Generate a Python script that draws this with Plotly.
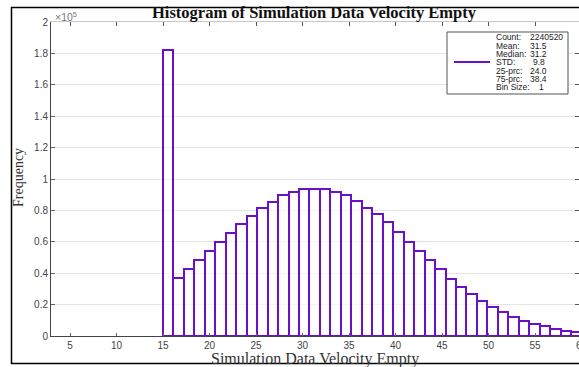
import plotly.graph_objects as go

# Histogram bins: 40 equal bins spanning 15..60
bin_start = 15.0
bin_stop = 60.0
n_bins = 40
counts = [182000, 36700, 42700, 48400, 53900, 59900, 65600, 71300, 76600, 81700,
          85300, 89600, 91700, 93600, 93600, 93600, 91900, 89800, 86200, 81300,
          77700, 72400, 66400, 60100, 54100, 48400, 42500, 36500, 31000, 26800,
          22300, 18700, 15300, 12300, 9800, 7600, 6400, 4700, 3400, 2500]

x_ticks = [5, 10, 15, 20, 25, 30, 35, 40, 45, 50, 55, 60]
y_ticks = [0, 20000, 40000, 60000, 80000, 100000, 120000, 140000, 160000, 180000, 200000]
y_ticktext = ["0", "0.2", "0.4", "0.6", "0.8", "1", "1.2", "1.4", "1.6", "1.8", "2"]

stat_labels = ["Count:", "Mean:", "Median:", "STD:", "25-prc:", "75-prc:", "Bin Size:"]
stat_values = ["2240520", "31.5", "31.2", "9.8", "24.0", "38.4", "1"]

title_text = "Histogram of Simulation Data Velocity Empty"
x_title = "Simulation Data Velocity Empty"
y_title = "Frequency"

purple = "rgb(106,16,200)"
x_range = [2.957, 59.73]

W, H = 579, 367
L, R, T, B = 51, 0, 22, 31
plot_w = W - L - R
plot_h = H - T - B


def px_x(px):
    return (px - L) / plot_w


def px_y(py):
    return (H - B - py) / plot_h


width = (bin_stop - bin_start) / n_bins
centers = [bin_start + width * (i + 0.5) for i in range(n_bins)]

fig = go.Figure()
fig.add_trace(go.Bar(
    x=centers, y=counts, width=[width] * n_bins,
    marker=dict(color="rgba(255,255,255,0.6)", line=dict(color=purple, width=2)),
    showlegend=False, hoverinfo="skip",
))
# empty trace to register the mirrored top/right axes
fig.add_trace(go.Scatter(x=[], y=[], xaxis="x2", yaxis="y2", showlegend=False))

tick_font = dict(family="Liberation Sans, Arial, sans-serif", size=10, color="#444")

fig.update_layout(
    width=W, height=H,
    margin=dict(l=L, r=R, t=T, b=B),
    paper_bgcolor="white", plot_bgcolor="white",
    bargap=0,
    xaxis=dict(range=x_range, tickvals=x_ticks, ticks="inside", ticklen=3,
               tickcolor="#666", showgrid=False, zeroline=False,
               showline=True, linecolor="#444", linewidth=1,
               tickfont=tick_font),
    yaxis=dict(range=[0, 200000], tickvals=y_ticks, ticktext=y_ticktext,
               ticks="inside", ticklen=4, tickcolor="#666",
               showgrid=True, gridcolor="#e4e4e4", gridwidth=1, zeroline=False,
               showline=True, linecolor="#444", linewidth=1,
               tickfont=tick_font),
    xaxis2=dict(overlaying="x", side="top", anchor="y", range=x_range,
                tickvals=x_ticks, ticks="inside", ticklen=4, tickcolor="#555",
                showticklabels=False, showgrid=False, zeroline=False,
                showline=True, linecolor="#c8c8c8", linewidth=1),
    yaxis2=dict(overlaying="y", side="right", anchor="x", range=[0, 200000],
                tickvals=y_ticks, ticks="inside", ticklen=4, tickcolor="#555",
                showticklabels=False, showgrid=False, zeroline=False,
                showline=False),
)

annotations = []
# last x tick label, centred just past the right edge
annotations.append(dict(
    x=(60 - x_range[0]) / (x_range[1] - x_range[0]), y=px_y(345),
    xref="paper", yref="paper", text="60", showarrow=False,
    xanchor="center", yanchor="middle", font=tick_font))
# exponent label
annotations.append(dict(
    x=px_x(53), y=px_y(16), xref="paper", yref="paper",
    text="\u00d710<sup>5</sup>", showarrow=False, xanchor="left", yanchor="middle",
    font=dict(family="Liberation Sans, Arial, sans-serif", size=10.5, color="#777")))
# titles
annotations.append(dict(
    x=px_x(314.5), y=px_y(13), xref="paper", yref="paper", text="<b>" + title_text + "</b>",
    showarrow=False, xanchor="center", yanchor="middle",
    font=dict(family="Liberation Serif, Times New Roman, serif", size=16.5, color="#111")))
annotations.append(dict(
    x=px_x(314.5), y=px_y(358.5), xref="paper", yref="paper", text=x_title,
    showarrow=False, xanchor="center", yanchor="middle",
    font=dict(family="Liberation Serif, Times New Roman, serif", size=16, color="#333")))
annotations.append(dict(
    x=px_x(18), y=px_y(178), xref="paper", yref="paper", text=y_title, textangle=-90,
    showarrow=False, xanchor="center", yanchor="middle",
    font=dict(family="Liberation Serif, Times New Roman, serif", size=14, color="#333")))

# statistics box text
stat_font = dict(family="Liberation Sans, Arial, sans-serif", size=8.5, color="#222")
value_x = [528, 528, 528, 531, 528, 528, 537]
for i, (lab, val) in enumerate(zip(stat_labels, stat_values)):
    yc = px_y(37.3 + 8.3 * i)
    annotations.append(dict(x=px_x(494), y=yc, xref="paper", yref="paper", text=lab,
                            showarrow=False, xanchor="left", yanchor="middle", font=stat_font))
    annotations.append(dict(x=px_x(value_x[i]), y=yc, xref="paper", yref="paper", text=val,
                            showarrow=False, xanchor="left", yanchor="middle", font=stat_font))
fig.update_layout(annotations=annotations)

shapes = [
    # statistics box and its line sample
    dict(type="rect", xref="paper", yref="paper",
         x0=px_x(447), x1=px_x(568), y0=px_y(94), y1=px_y(32),
         line=dict(color="#555", width=1), fillcolor="white", layer="above"),
    dict(type="line", xref="paper", yref="paper",
         x0=px_x(454), x1=px_x(490), y0=px_y(62), y1=px_y(62),
         line=dict(color=purple, width=2), layer="above"),
    # outer figure frame
    dict(type="line", xref="paper", yref="paper",
         x0=px_x(11), x1=px_x(580), y0=px_y(7.5), y1=px_y(7.5),
         line=dict(color="black", width=1.5)),
    dict(type="line", xref="paper", yref="paper",
         x0=px_x(11.5), x1=px_x(11.5), y0=px_y(7), y1=px_y(364),
         line=dict(color="black", width=1.5)),
    dict(type="line", xref="paper", yref="paper",
         x0=px_x(11), x1=px_x(580), y0=px_y(363.5), y1=px_y(363.5),
         line=dict(color="black", width=1.5)),
]
fig.update_layout(shapes=shapes)

fig.write_html("out.html")
